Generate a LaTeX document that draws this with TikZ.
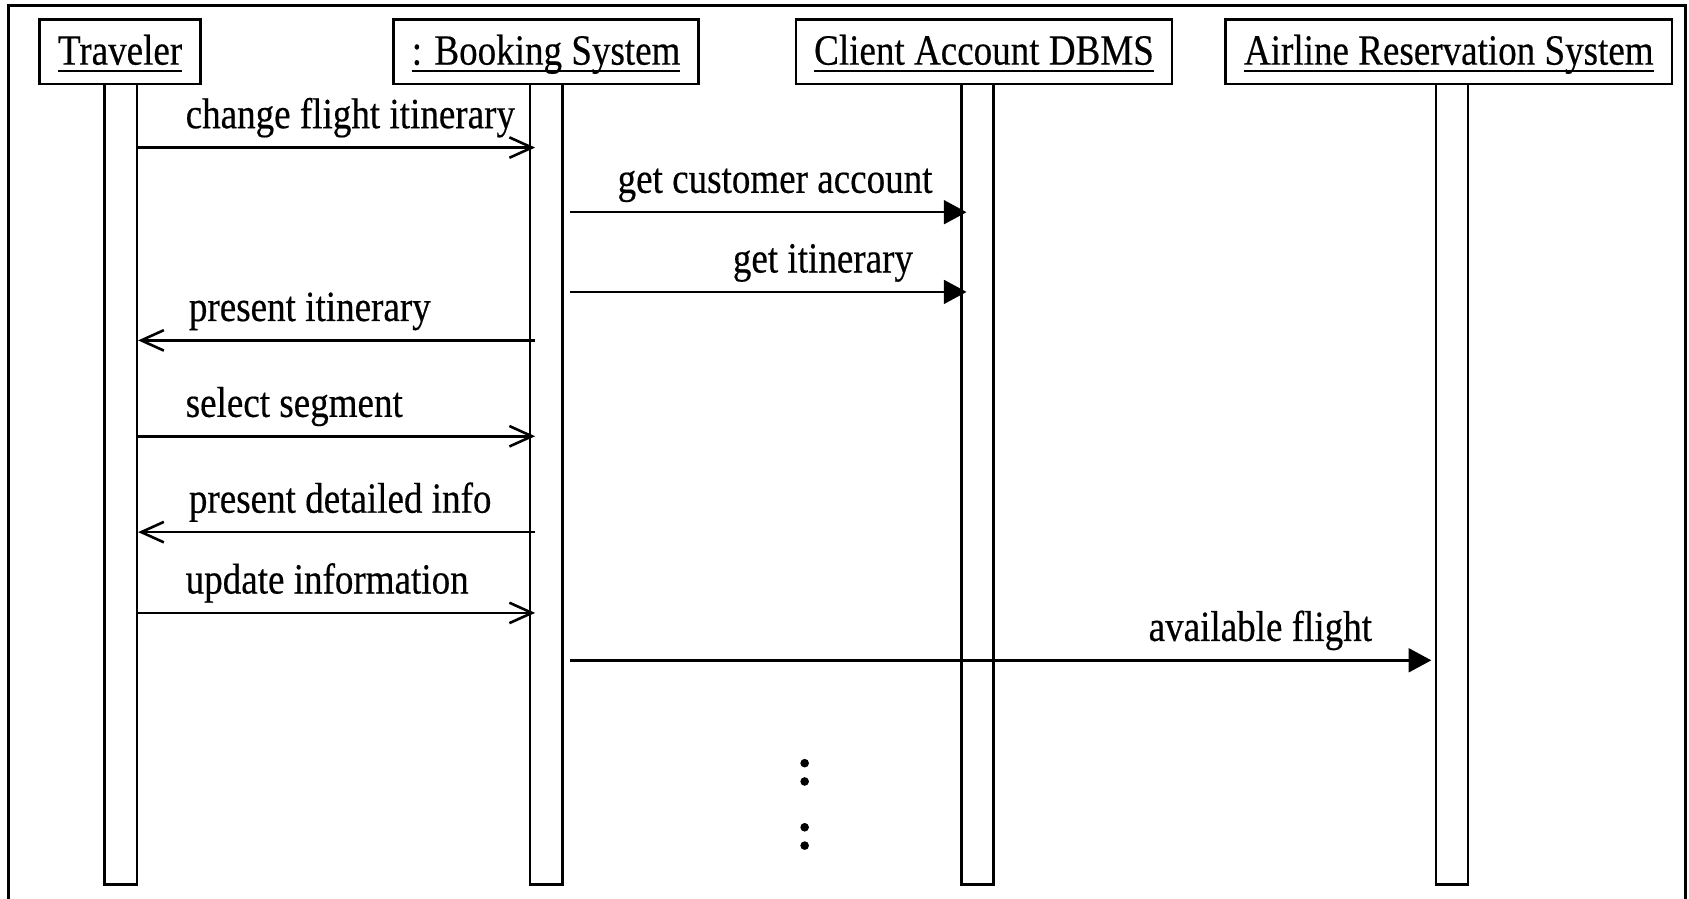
\documentclass[tikz,border=0pt]{standalone}
\usepackage{fontspec}
\setmainfont{Liberation Serif}[FakeStretch=0.86,FakeBold=0.4]
\usetikzlibrary{arrows.meta}

\newcommand{\objname}[1]{\setbox0\hbox{#1}\rlap{\rule[-3.5pt]{\wd0}{1.1pt}}\box0}

\tikzstyle{object} = [draw,line width=1.2pt,minimum height=30pt,inner xsep=8.5pt,text height=16pt,text depth=4pt]
\tikzstyle{bar} = [draw,line width=1.2pt,minimum width=15pt,minimum height=371.5pt,inner sep=0pt]
\tikzstyle{msg} = [line width=1.2pt,-{Straight Barb[length=10.5pt,width=9.5pt]}]
\tikzstyle{call} = [line width=1.2pt,-{Triangle[length=10.5pt,width=11pt]}]
\tikzstyle{msglabel} = [anchor=base west,inner sep=0pt]

\begin{document}
\begin{tikzpicture}[x=0.5pt,y=-0.5pt,font=\fontsize{20pt}{24pt}\selectfont]
		\useasboundingbox (0,0) rectangle (1568,834);
		\draw[line width=1.5pt] (8,840) -- (8,5) -- (1565,5) -- (1565,840);
		\node[object] (traveler) at (111.5,48) {\objname{Traveler}};
		\node[object] (booking) at (507,48) {\objname{: Booking System}};
		\node[object] (dbms) at (913.5,48) {\objname{Client Account DBMS}};
		\node[object] (airline) at (1345,48) {\objname{Airline Reservation System}};
		\node[bar] (tbar) at (112,449.5) {};
		\node[bar] (bbar) at (507,449.5) {};
		\node[bar] (dbar) at (907.5,449.5) {};
		\node[bar] (abar) at (1348,449.5) {};
		\draw[msg] (tbar.east |- 0,137) -- ([xshift=3pt]bbar.west |- 0,137);
		\draw[call] ([xshift=3pt]bbar.east |- 0,197) -- ([xshift=3pt]dbar.west |- 0,197);
		\draw[call] ([xshift=3pt]bbar.east |- 0,271) -- ([xshift=3pt]dbar.west |- 0,271);
		\draw[msg] ([xshift=3pt]bbar.west |- 0,316) -- (tbar.east |- 0,316);
		\draw[msg] (tbar.east |- 0,405) -- ([xshift=3pt]bbar.west |- 0,405);
		\draw[msg] ([xshift=3pt]bbar.west |- 0,494) -- (tbar.east |- 0,494);
		\draw[msg] (tbar.east |- 0,569) -- ([xshift=3pt]bbar.west |- 0,569);
		\draw[call] ([xshift=3pt]bbar.east |- 0,613) -- ([xshift=-1.5pt]abar.west |- 0,613);
		\node[msglabel] (l1) at (172,119) {change flight itinerary};
		\node[msglabel] (l2) at (573,179) {get customer account};
		\node[msglabel] (l3) at (680,253) {get itinerary};
		\node[msglabel] (l4) at (175,298) {present itinerary};
		\node[msglabel] (l5) at (172,387) {select segment};
		\node[msglabel] (l6) at (175,476) {present detailed info};
		\node[msglabel] (l7) at (172,551) {update information};
		\node[msglabel] (l8) at (1066,595) {available flight};
		\foreach \y in {708.5,725.5,768,785}
			\fill (747,\y) circle (2pt);
\end{tikzpicture}
\end{document}
